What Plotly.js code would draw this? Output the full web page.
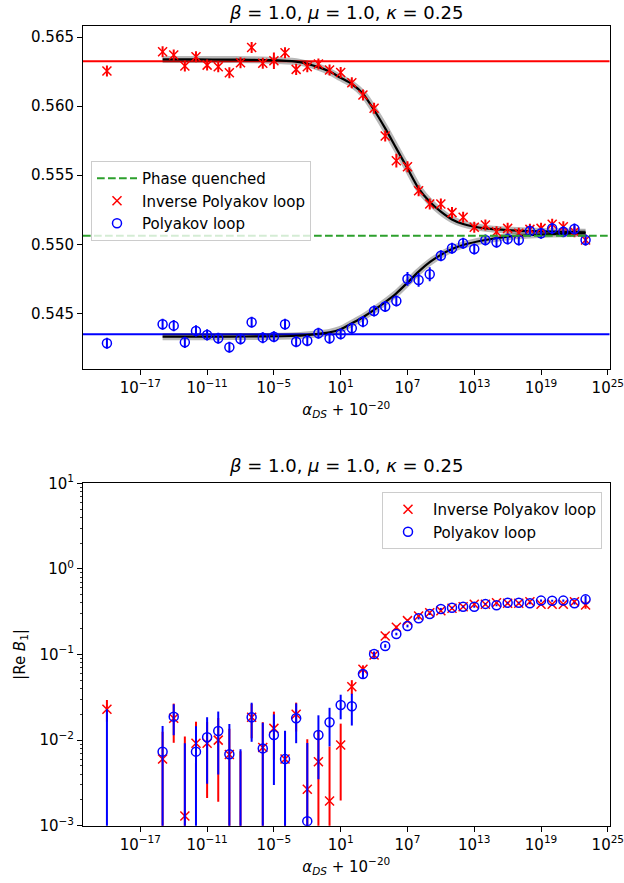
<!DOCTYPE html>
<html>
<head>
<meta charset="utf-8">
<script src="https://cdn.plot.ly/plotly-3.0.1.min.js"></script>
<style>html,body{margin:0;padding:0;background:#fff;}#plot{width:624px;height:883px;}</style>
</head>
<body>
<div id="plot"></div>
<script>
// ---------- data ----------
const xVals = [1e-20, 1e-15, 1e-14, 1e-13, 1e-12, 1e-11, 1e-10, 1e-9, 1e-8, 1e-7, 1e-6,
  1e-5, 1e-4, 1e-3, 1e-2, 1e-1, 1e0, 1e1, 1e2, 1e3, 1e4, 1e5, 1e6, 1e7, 1e8, 1e9, 1e10,
  1e11, 1e12, 1e13, 1e14, 1e15, 1e16, 1e17, 1e18, 1e19, 1e20, 1e21, 1e22, 1e23];

// top panel: magnitudes
const invPolyTop = [0.56254, 0.56394, 0.56370, 0.56290, 0.56358, 0.56297, 0.56285, 0.56242, 0.56314, 0.56425,
  0.56310, 0.56329, 0.56386, 0.56266, 0.56285, 0.56305, 0.56261, 0.56244, 0.56169, 0.56080,
  0.55984, 0.55784, 0.55605, 0.55561, 0.55388, 0.55291, 0.55291, 0.55229, 0.55195, 0.55123,
  0.55140, 0.55091, 0.55115, 0.55080, 0.55108, 0.55115, 0.55145, 0.55127, 0.55091, 0.55031];
const invPolyTopErr = [0.0004, 0.0004, 0.0004, 0.0004, 0.0004, 0.0004, 0.0004, 0.0004, 0.0004, 0.0004,
  0.0004, 0.0006, 0.0004, 0.0004, 0.0004, 0.0004, 0.0004, 0.0004, 0.0004, 0.0004,
  0.0004, 0.0004, 0.0005, 0.0004, 0.0004, 0.0004, 0.0004, 0.0004, 0.0004, 0.0004,
  0.0004, 0.0004, 0.0004, 0.0004, 0.0004, 0.0004, 0.0004, 0.0004, 0.0004, 0.0004];
const polyTop = [0.54283, 0.54421, 0.54411, 0.54290, 0.54373, 0.54344, 0.54320, 0.54255, 0.54314, 0.54435,
  0.54324, 0.54331, 0.54421, 0.54295, 0.54302, 0.54356, 0.54320, 0.54350, 0.54392, 0.54440,
  0.54517, 0.54549, 0.54590, 0.54749, 0.54742, 0.54783, 0.54917, 0.54971, 0.55007, 0.54966,
  0.55031, 0.55014, 0.55038, 0.55031, 0.55096, 0.55080, 0.55115, 0.55091, 0.55110, 0.55031];
const polyTopErr = [0.0004, 0.0004, 0.0004, 0.0004, 0.0004, 0.0004, 0.0004, 0.0004, 0.0004, 0.0004,
  0.0004, 0.0004, 0.0004, 0.0004, 0.0004, 0.0004, 0.0004, 0.0004, 0.0004, 0.0004,
  0.0004, 0.0004, 0.0004, 0.0005, 0.0005, 0.0005, 0.0004, 0.0004, 0.0004, 0.0004,
  0.0004, 0.0004, 0.0004, 0.0004, 0.0004, 0.0004, 0.0004, 0.0004, 0.0004, 0.0004];

// fitted curves
const fitX = [1e-15, 1e-12, 1e-9, 1e-6, 1e-3, 1e-1, 1e0, 1e1, 1e2, 1e3, 1e4, 1e5, 1e6, 1e7,
  1e8, 1e9, 1e10, 1e11, 1e12, 1e14, 1e16, 1e18, 1e20, 1e23];
const invPolyFit = [0.56338, 0.56338, 0.56337, 0.56334, 0.56322, 0.56282, 0.56250, 0.56205, 0.56160, 0.56090,
  0.55972, 0.55839, 0.55694, 0.55550, 0.55405, 0.55308, 0.55236, 0.55180, 0.55147, 0.55115,
  0.55103, 0.55096, 0.55091, 0.55087];
const polyFit = [0.54331, 0.54331, 0.54332, 0.54333, 0.54338, 0.54352, 0.54362, 0.54385, 0.54428, 0.54472,
  0.54525, 0.54582, 0.54645, 0.54722, 0.54802, 0.54870, 0.54923, 0.54965, 0.54995, 0.55031,
  0.55055, 0.55067, 0.55074, 0.55080];

// reference levels
const invPolyRef = 0.56324;
const polyRef = 0.54349;
const phaseQuenched = 0.55062;

// bottom panel: |Re B1|
const invPolyB1 = [0.0229, 0.0060, 0.0180, 0.0013, 0.0092, 0.0092, 0.0100, 0.0068, 0.0004, 0.0185,
  0.0082, 0.0137, 0.0060, 0.0200, 0.00266, 0.0056, 0.00194, 0.00877, 0.0421, 0.0671,
  0.0987, 0.1644, 0.208, 0.2486, 0.2818, 0.308, 0.325, 0.347, 0.362, 0.386,
  0.386, 0.403, 0.397, 0.397, 0.414, 0.386, 0.386, 0.386, 0.414, 0.378];
const invPolyB1Err = [0.0065, 0.0065, 0.0087, 0.0097, 0.0072, 0.0071, 0.0081, 0.0068, 0.0070, 0.0080,
  0.0080, 0.0078, 0.0068, 0.0074, 0.0076, 0.0075, 0.0065, 0.0068, 0.0080, 0.0076,
  0.0080, 0.010, 0.010, 0.010, 0.010, 0.010, 0.010, 0.012, 0.012, 0.012,
  0.012, 0.012, 0.012, 0.012, 0.012, 0.012, 0.012, 0.012, 0.015, 0.035];
const polyB1 = [0.0005, 0.00733, 0.0188, 0.0004, 0.00733, 0.0108, 0.01276, 0.00683, 0.0005, 0.01845,
  0.0080, 0.01148, 0.0060, 0.0180, 0.00113, 0.01148, 0.01614, 0.0257, 0.0248, 0.0592,
  0.1014, 0.1257, 0.1735, 0.2154, 0.265, 0.297, 0.340, 0.352, 0.362, 0.362,
  0.390, 0.376, 0.403, 0.403, 0.397, 0.426, 0.424, 0.426, 0.397, 0.441];
const polyB1Err = [0.0224, 0.0073, 0.0074, 0.0088, 0.0072, 0.0077, 0.0088, 0.0086, 0.0073, 0.0089,
  0.0080, 0.0085, 0.0069, 0.0088, 0.0081, 0.0080, 0.0077, 0.0082, 0.0100, 0.0060,
  0.0070, 0.006, 0.006, 0.008, 0.008, 0.008, 0.010, 0.010, 0.010, 0.010,
  0.010, 0.010, 0.010, 0.010, 0.010, 0.012, 0.012, 0.012, 0.012, 0.045];

// tick labels
const xTickVals = [1e-17, 1e-11, 1e-5, 1e1, 1e7, 1e13, 1e19, 1e25];
const xTickText = ['10<sup>\u221217</sup>', '10<sup>\u221211</sup>', '10<sup>\u22125</sup>', '10<sup>1</sup>',
  '10<sup>7</sup>', '10<sup>13</sup>', '10<sup>19</sup>', '10<sup>25</sup>'];
const yTopTickVals = [0.545, 0.550, 0.555, 0.560, 0.565];
const yTopTickText = ['0.545', '0.550', '0.555', '0.560', '0.565'];
const yBotTickVals = [1e-3, 1e-2, 1e-1, 1e0, 1e1];
const yBotTickText = ['10<sup>\u22123</sup>', '10<sup>\u22122</sup>', '10<sup>\u22121</sup>', '10<sup>0</sup>', '10<sup>1</sup>'];

const titleText = '<i>\u03b2</i> = 1.0, <i>\u03bc</i> = 1.0, <i>\u03ba</i> = 0.25';
const xTitle = '<i>\u03b1<sub>DS</sub></i> + 10<sup>\u221220</sup>';
const yBotTitle = '|Re <i>B</i><sub>1</sub>|';

// ---------- styling ----------
const FONT = 'DejaVu Sans';
const FS = 15;
const RED = '#ff0000', BLUE = '#0000ff', GREEN = '#2ca02c';
const DASH = '7.7px,3.3px';

function errTrace(x, y, e, color, symbol, name, xa, ya, legend, showlegend) {
  return {
    type: 'scatter', mode: 'markers', x: x, y: y, name: name,
    xaxis: xa, yaxis: ya, legend: legend, showlegend: showlegend,
    marker: { symbol: symbol, size: 9, color: color, line: { color: color, width: 1.5 } },
    error_y: { type: 'data', array: e, visible: true, color: color, thickness: 2, width: 0 },
    cliponaxis: true
  };
}

const traces = [
  // band + fit lines
  { type: 'scatter', mode: 'lines', x: fitX, y: invPolyFit, xaxis: 'x', yaxis: 'y', showlegend: false,
    line: { color: 'rgba(0,0,0,0.28)', width: 7, shape: 'spline', smoothing: 0.8 }, hoverinfo: 'skip' },
  { type: 'scatter', mode: 'lines', x: fitX, y: polyFit, xaxis: 'x', yaxis: 'y', showlegend: false,
    line: { color: 'rgba(0,0,0,0.28)', width: 7, shape: 'spline', smoothing: 0.8 }, hoverinfo: 'skip' },
  { type: 'scatter', mode: 'lines', x: fitX, y: invPolyFit, xaxis: 'x', yaxis: 'y', showlegend: false,
    line: { color: '#000', width: 2.2, shape: 'spline', smoothing: 0.8 } },
  { type: 'scatter', mode: 'lines', x: fitX, y: polyFit, xaxis: 'x', yaxis: 'y', showlegend: false,
    line: { color: '#000', width: 2.2, shape: 'spline', smoothing: 0.8 } },
  // legend-only entry for the phase-quenched line
  { type: 'scatter', mode: 'lines', x: [null], y: [null], xaxis: 'x', yaxis: 'y', name: 'Phase quenched',
    legend: 'legend', line: { color: GREEN, width: 2, dash: DASH } },
  errTrace(xVals, invPolyTop, invPolyTopErr, RED, 'x-thin', 'Inverse Polyakov loop', 'x', 'y', 'legend', true),
  errTrace(xVals, polyTop, polyTopErr, BLUE, 'circle-open', 'Polyakov loop', 'x', 'y', 'legend', true),
  errTrace(xVals, invPolyB1, invPolyB1Err, RED, 'x-thin', 'Inverse Polyakov loop', 'x2', 'y2', 'legend2', true),
  errTrace(xVals, polyB1, polyB1Err, BLUE, 'circle-open', 'Polyakov loop', 'x2', 'y2', 'legend2', true)
];

const W = 624, H = 883;
const axL = 83, axR = 609.5;
const topT = 26, topB = 369.3, botT = 483.3, botB = 825.7;
const xDom = [axL / W, axR / W];

const axisCommon = {
  showline: true, linecolor: '#000', linewidth: 1, mirror: true,
  ticks: 'outside', ticklen: 5, tickwidth: 1, tickcolor: '#000',
  showgrid: false, zeroline: false, ticklabeloverflow: 'allow',
  tickfont: { family: FONT, size: FS, color: '#000' }
};

const layout = {
  width: W, height: H,
  margin: { l: 0, r: 0, t: 0, b: 0 },
  paper_bgcolor: '#fff', plot_bgcolor: '#fff',
  font: { family: FONT, size: FS, color: '#000' },
  xaxis: Object.assign({}, axisCommon, {
    type: 'log', domain: xDom, anchor: 'y', range: [-22.15, 25.15],
    tickmode: 'array', tickvals: xTickVals, ticktext: xTickText,
    title: { text: xTitle, font: { family: FONT, size: FS }, standoff: 8 }
  }),
  yaxis: Object.assign({}, axisCommon, {
    domain: [1 - topB / H, 1 - topT / H], anchor: 'x', range: [0.54095, 0.5658],
    tickmode: 'array', tickvals: yTopTickVals, ticktext: yTopTickText
  }),
  xaxis2: Object.assign({}, axisCommon, {
    type: 'log', domain: xDom, anchor: 'y2', range: [-22.15, 25.15],
    tickmode: 'array', tickvals: xTickVals, ticktext: xTickText,
    title: { text: xTitle, font: { family: FONT, size: FS }, standoff: 8 }
  }),
  yaxis2: Object.assign({}, axisCommon, {
    type: 'log', domain: [1 - botB / H, 1 - botT / H], anchor: 'x2', range: [-3, 1],
    tickmode: 'array', tickvals: yBotTickVals, ticktext: yBotTickText,
    minor: { ticks: 'outside', ticklen: 2.5, tickwidth: 0.8, tickcolor: '#000', dtick: 'D1', showgrid: false },
    title: { text: yBotTitle, font: { family: FONT, size: FS }, standoff: 10 }
  }),
  shapes: [
    { type: 'line', xref: 'x domain', yref: 'y', x0: 0, x1: 1, y0: invPolyRef, y1: invPolyRef,
      line: { color: RED, width: 2 }, layer: 'below' },
    { type: 'line', xref: 'x domain', yref: 'y', x0: 0, x1: 1, y0: polyRef, y1: polyRef,
      line: { color: BLUE, width: 2 }, layer: 'below' },
    { type: 'line', xref: 'x domain', yref: 'y', x0: 0, x1: 1, y0: phaseQuenched, y1: phaseQuenched,
      line: { color: GREEN, width: 2, dash: DASH }, layer: 'above' }
  ],
  annotations: [
    { text: titleText, xref: 'paper', yref: 'paper', x: (axL + axR) / 2 / W, y: 1 - 12 / H,
      xanchor: 'center', yanchor: 'middle', showarrow: false, font: { family: FONT, size: 18 } },
    { text: titleText, xref: 'paper', yref: 'paper', x: (axL + axR) / 2 / W, y: 1 - 465 / H,
      xanchor: 'center', yanchor: 'middle', showarrow: false, font: { family: FONT, size: 18 } }
  ],
  legend: {
    x: 91 / W, y: 1 - 161 / H, xanchor: 'left', yanchor: 'top',
    bgcolor: 'rgba(255,255,255,0.8)', bordercolor: '#cccccc', borderwidth: 1,
    font: { family: FONT, size: FS }, tracegroupgap: 0, itemwidth: 40
  },
  legend2: {
    x: 602 / W, y: 1 - 492 / H, xanchor: 'right', yanchor: 'top',
    bgcolor: 'rgba(255,255,255,0.8)', bordercolor: '#cccccc', borderwidth: 1,
    font: { family: FONT, size: FS }, tracegroupgap: 0, itemwidth: 40
  },
  showlegend: true
};

Plotly.newPlot('plot', traces, layout, { staticPlot: true, displayModeBar: false });
</script>
</body>
</html>
